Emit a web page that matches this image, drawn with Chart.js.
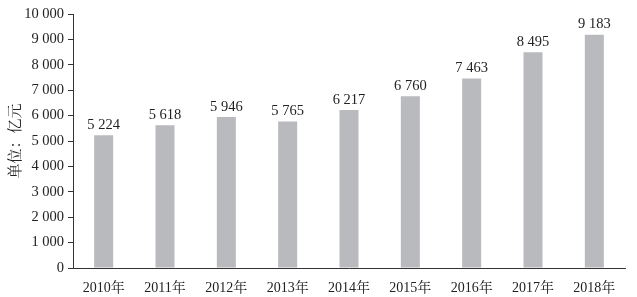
<!DOCTYPE html>
<html>
<head>
<meta charset="utf-8">
<script src="https://cdn.jsdelivr.net/npm/chart.js@4/dist/chart.umd.min.js"></script>
<style>
  html, body { margin: 0; padding: 0; background: #fff; }
  #wrap { width: 637px; height: 297px; }
</style>
</head>
<body>
<div id="wrap"><canvas id="chart"></canvas></div>
<script>
const years = ['2010年', '2011年', '2012年', '2013年', '2014年', '2015年', '2016年', '2017年', '2018年'];
const values = [5224, 5618, 5946, 5765, 6217, 6760, 7463, 8495, 9183];
const yTitle = '单位：亿元';

const serif = '"Liberation Serif", "Noto Serif CJK SC", "Noto Sans CJK SC", serif';

function fmt(v) {
    return String(v).replace(/\B(?=(\d{3})+(?!\d))/g, ' ');
}

const barLabels = {
    id: 'barLabels',
    afterDatasetsDraw(chart) {
        const ctx = chart.ctx;
        const meta = chart.getDatasetMeta(0);
        ctx.save();
        ctx.font = '14.5px ' + serif;
        ctx.fillStyle = '#222';
        ctx.textAlign = 'center';
        ctx.textBaseline = 'bottom';
        meta.data.forEach((bar, i) => {
            ctx.fillText(fmt(values[i]), bar.x, bar.y - 3);
        });
        ctx.restore();
    }
};

const ctx1 = document.getElementById('chart');
new Chart(ctx1, {
    type: 'bar',
    data: {
        labels: years,
        datasets: [{
            data: values,
            backgroundColor: '#b9babd',
            barPercentage: 0.62,
            categoryPercentage: 0.5
        }]
    },
    options: {
        responsive: true,
        maintainAspectRatio: false,
        animation: false,
        layout: { padding: { top: 14, right: 12, left: 0, bottom: 0 } },
        plugins: {
            legend: { display: false },
            tooltip: { enabled: false }
        },
        scales: {
            x: {
                grid: { display: false },
                border: { display: true, color: '#333', width: 1 },
                ticks: {
                    color: '#222',
                    font: { family: serif, size: 14 },
                    padding: 4,
                    maxRotation: 0
                },
                afterFit(scale) { scale.height = 29; }
            },
            y: {
                min: 0,
                max: 10000,
                grid: {
                    drawOnChartArea: false,
                    drawTicks: true,
                    tickLength: 5,
                    color: '#333'
                },
                border: { display: true, color: '#333', width: 1 },
                ticks: {
                    stepSize: 1000,
                    color: '#222',
                    font: { family: serif, size: 14.5 },
                    padding: 4,
                    callback: v => fmt(v)
                },
                title: {
                    display: true,
                    text: yTitle,
                    color: '#222',
                    font: { family: serif, size: 15 },
                    padding: { top: 7, bottom: 2 }
                },
                afterFit(scale) { scale.width = 73; }
            }
        }
    },
    plugins: [barLabels]
});
</script>
</body>
</html>
